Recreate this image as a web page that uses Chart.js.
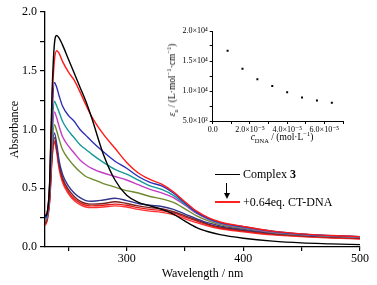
<!DOCTYPE html>
<html>
<head>
<meta charset="utf-8">
<script src="https://cdn.jsdelivr.net/npm/chart.js@4"></script>
<style>
  body { margin: 0; background: #fff; }
  #wrap { position: relative; width: 377px; height: 285px; font-family: "Liberation Serif", "DejaVu Serif", serif; color: #000; }
  #main { position: absolute; left: 0; top: 0; }
  #inset { position: absolute; left: 165px; top: 20px; }
  .abs { position: absolute; white-space: nowrap; }
  .swatch { position: absolute; width: 25px; height: 1.6px; }
  .leg { font-size: 12px; line-height: 14px; }
  .ititle { font-size: 9.5px; line-height: 10px; }
  .ititle sub, .ititle sup { font-size: 6.5px; line-height: 0; }
  #arrow-stem { position: absolute; left: 226px; top: 183px; width: 1.3px; height: 11px; background: #000; }
  #arrow-head { position: absolute; left: 223.5px; top: 193px; width: 0; height: 0;
    border-left: 3.2px solid transparent; border-right: 3.2px solid transparent; border-top: 6px solid #000; }
</style>
</head>
<body>
<div id="wrap">
  <canvas id="main" width="377" height="285"></canvas>
  <canvas id="inset" width="190" height="125"></canvas>

  <div class="abs ititle" id="inset-ytitle" style="left:172px; top:80px; transform: translate(-50%, -50%) rotate(-90deg);">
    <i>ε</i><sub>a</sub> / (L·mol<sup>−1</sup>·cm<sup>−1</sup>)</div>
  <div class="abs ititle" id="inset-xtitle" style="left:282px; top:137px; transform: translate(-50%, -50%);">
    <i>c</i><sub>DNA</sub> / (mol·L<sup>−1</sup>)</div>

  <div class="swatch" style="left:215px; top:173.5px; background:#000;"></div>
  <div class="abs leg" style="left:243px; top:167px;">Complex <b>3</b></div>
  <div id="arrow-stem"></div>
  <div id="arrow-head"></div>
  <div class="swatch" style="left:215px; top:201px; background:#ff2020;"></div>
  <div class="abs leg" style="left:243px; top:195px;">+0.64eq. CT-DNA</div>
</div>

<script>
// UV-vis titration of complex 3 with CT-DNA, plus the epsilon_a vs c_DNA inset.

const wavelengths = [230, 232, 234, 236, 238, 240, 242, 245, 250, 255, 260, 265, 270, 280, 290,
  300, 310, 320, 330, 340, 350, 360, 370, 380, 400, 425, 450, 475, 500];

const absComplex = [0.26, 0.30, 0.55, 1.30, 1.72, 1.80, 1.78, 1.72, 1.60, 1.48, 1.36, 1.24, 1.10, 0.79, 0.57,
  0.44, 0.38, 0.35, 0.32, 0.28, 0.22, 0.165, 0.13, 0.105, 0.075, 0.05, 0.035, 0.027, 0.02];
const absRed1 = [0.27, 0.30, 0.55, 1.22, 1.58, 1.67, 1.65, 1.58, 1.49, 1.42, 1.32, 1.21, 1.11, 0.96, 0.84,
  0.72, 0.63, 0.575, 0.535, 0.47, 0.385, 0.305, 0.25, 0.213, 0.175, 0.135, 0.112, 0.098, 0.088];
const absBlue = [0.25, 0.28, 0.52, 1.10, 1.40, 1.36, 1.29, 1.20, 1.12, 1.07, 1.00, 0.95, 0.90, 0.81, 0.73,
  0.67, 0.60, 0.55, 0.52, 0.46, 0.375, 0.295, 0.243, 0.207, 0.172, 0.134, 0.11, 0.097, 0.088];
const absTeal = [0.24, 0.27, 0.50, 0.98, 1.24, 1.20, 1.15, 1.07, 0.99, 0.93, 0.87, 0.83, 0.79, 0.72, 0.66,
  0.62, 0.57, 0.52, 0.49, 0.44, 0.365, 0.292, 0.24, 0.203, 0.168, 0.131, 0.108, 0.095, 0.086];
const absMagenta = [0.23, 0.27, 0.48, 0.92, 1.15, 1.10, 1.03, 0.94, 0.86, 0.80, 0.74, 0.70, 0.67, 0.63, 0.60,
  0.57, 0.53, 0.49, 0.46, 0.42, 0.355, 0.285, 0.236, 0.2, 0.164, 0.128, 0.106, 0.093, 0.084];
const absOlive = [0.22, 0.26, 0.45, 0.85, 1.04, 0.99, 0.92, 0.83, 0.75, 0.69, 0.64, 0.60, 0.58, 0.54, 0.51,
  0.48, 0.46, 0.43, 0.41, 0.38, 0.325, 0.265, 0.222, 0.19, 0.158, 0.124, 0.103, 0.091, 0.082];
const absNavy = [0.22, 0.27, 0.45, 0.82, 0.97, 0.88, 0.74, 0.62, 0.52, 0.46, 0.42, 0.395, 0.39, 0.40, 0.415,
  0.395, 0.37, 0.355, 0.345, 0.32, 0.28, 0.24, 0.205, 0.18, 0.15, 0.12, 0.102, 0.09, 0.082];
const absWine = [0.20, 0.25, 0.42, 0.78, 0.93, 0.85, 0.71, 0.59, 0.49, 0.43, 0.39, 0.37, 0.365, 0.37, 0.385,
  0.37, 0.35, 0.335, 0.325, 0.30, 0.265, 0.23, 0.195, 0.17, 0.143, 0.114, 0.097, 0.086, 0.077];
const absRed2 = [0.19, 0.24, 0.40, 0.76, 0.90, 0.83, 0.69, 0.57, 0.47, 0.41, 0.375, 0.355, 0.35, 0.355, 0.365,
  0.355, 0.335, 0.32, 0.31, 0.29, 0.255, 0.22, 0.187, 0.162, 0.136, 0.108, 0.092, 0.081, 0.072];
const absRed3 = [0.18, 0.23, 0.38, 0.74, 0.885, 0.81, 0.67, 0.55, 0.455, 0.395, 0.36, 0.34, 0.335, 0.34, 0.35,
  0.34, 0.32, 0.305, 0.295, 0.275, 0.24, 0.207, 0.178, 0.155, 0.13, 0.103, 0.088, 0.077, 0.068];

const curves = [
  [absComplex, "#000000"],
  [absRed1, "#ff1a1a"],
  [absBlue, "#2f2fb5"],
  [absTeal, "#13999a"],
  [absMagenta, "#c43cc4"],
  [absOlive, "#6e8a2c"],
  [absNavy, "#34348f"],
  [absWine, "#7a2222"],
  [absRed2, "#e81c1c"],
  [absRed3, "#ff3030"],
];

const xTicks = [250, 300, 350, 400, 450, 500];
const yTicks = [0, 0.25, 0.5, 0.75, 1.0, 1.25, 1.5, 1.75, 2.0];

// inset: apparent molar absorptivity vs DNA concentration
const cDna = [0.8e-5, 1.6e-5, 2.4e-5, 3.2e-5, 4.0e-5, 4.8e-5, 5.6e-5, 6.4e-5];
const epsA = [16700, 13700, 11950, 10850, 9800, 8900, 8400, 8050];
const insetXTicks = [0, 1e-5, 2e-5, 3e-5, 4e-5, 5e-5, 6e-5, 7e-5];
const insetYTicks = [5000, 7500, 10000, 12500, 15000, 17500, 20000];

const serif = "'Liberation Serif', 'DejaVu Serif', serif";
const black = "#000";

function mainChart() {
  const font = { family: serif, size: 12 };
  new Chart(document.getElementById("main"), {
    type: "line",
    data: {
      datasets: curves.map(([ys, color]) => ({
        data: wavelengths.map((x, i) => ({ x, y: ys[i] })),
        borderColor: color,
        borderWidth: 1.4,
        pointRadius: 0,
        fill: false,
        cubicInterpolationMode: "monotone",
      })),
    },
    options: {
      responsive: false,
      animation: false,
      layout: { padding: { top: 12, right: 17, left: 0, bottom: 0 } },
      plugins: { legend: { display: false }, tooltip: { enabled: false } },
      scales: {
        x: {
          type: "linear", min: 230, max: 500,
          afterBuildTicks: (s) => { s.ticks = xTicks.map((value) => ({ value })); },
          afterFit: (s) => { s.height = 38; },
          ticks: { callback: (v) => (v % 100 === 0 ? String(v) : ""), font, color: black, padding: 1, maxRotation: 0, autoSkip: false },
          grid: { drawOnChartArea: false, drawTicks: true, tickLength: 4, color: black, lineWidth: 1.2 },
          border: { color: black, width: 1.3 },
          title: { display: true, text: "Wavelength / nm", font, color: black, padding: { top: 0, bottom: 4 } },
        },
        y: {
          min: 0, max: 2,
          afterBuildTicks: (s) => { s.ticks = yTicks.map((value) => ({ value })); },
          afterFit: (s) => { s.width = 45; },
          ticks: { callback: (v) => (Math.round(v * 100) % 50 === 0 ? v.toFixed(1) : ""), font, color: black, padding: 3, autoSkip: false },
          grid: { drawOnChartArea: false, drawTicks: true, tickLength: 5, color: black, lineWidth: 1.2 },
          border: { color: black, width: 1.3 },
          title: { display: true, text: "Absorbance", font, color: black, padding: { top: 8, bottom: 0 } },
        },
      },
    },
  });
}

function expLabel(v, exp) {
  const sup = { "3": "³", "4": "⁴", "5": "⁵", "-": "⁻" };
  return v + "×10" + String(exp).split("").map((c) => sup[c]).join("");
}

function insetChart() {
  const font = { family: serif, size: 8 };
  new Chart(document.getElementById("inset"), {
    type: "scatter",
    data: {
      datasets: [{
        data: cDna.map((x, i) => ({ x, y: epsA[i] })),
        backgroundColor: black,
        borderColor: black,
        pointStyle: "rect",
        pointRadius: 1.4,
        borderWidth: 0,
      }],
    },
    options: {
      responsive: false,
      animation: false,
      layout: { padding: { top: 11, right: 12, left: 0, bottom: 0 } },
      plugins: { legend: { display: false }, tooltip: { enabled: false } },
      scales: {
        x: {
          type: "linear", min: 0, max: 7e-5,
          afterBuildTicks: (s) => { s.ticks = insetXTicks.map((value) => ({ value })); },
          afterFit: (s) => { s.height = 24; },
          ticks: {
            callback: (v) => {
              const n = Math.round(v * 1e5);
              if (n === 0) return "0.0";
              return n % 2 === 0 ? expLabel(n.toFixed(1), -5) : "";
            },
            font, color: black, padding: 1, maxRotation: 0, autoSkip: false,
          },
          grid: { drawOnChartArea: false, drawTicks: true, tickLength: 3, color: black, lineWidth: 1 },
          border: { color: black, width: 1 },
        },
        y: {
          min: 5000, max: 20000,
          afterBuildTicks: (s) => { s.ticks = insetYTicks.map((value) => ({ value })); },
          afterFit: (s) => { s.width = 47.7; },
          ticks: {
            callback: (v) => {
              if (v % 5000 !== 0) return "";
              return v >= 10000 ? expLabel((v / 10000).toFixed(1), 4) : expLabel((v / 1000).toFixed(1), 3);
            },
            font, color: black, padding: 2, autoSkip: false,
          },
          grid: { drawOnChartArea: false, drawTicks: true, tickLength: 3, color: black, lineWidth: 1 },
          border: { color: black, width: 1 },
        },
      },
    },
  });
}

mainChart();
insetChart();
</script>
</body>
</html>
